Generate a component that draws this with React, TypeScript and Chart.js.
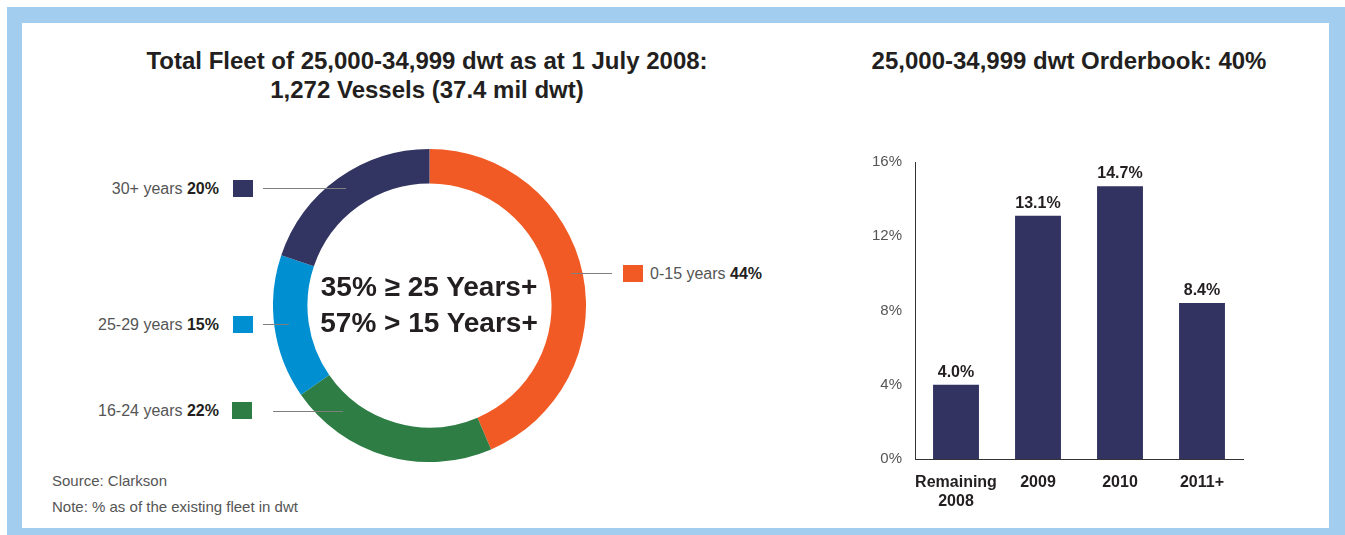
import React, { useEffect, useRef } from "react";
import { Chart, registerables } from "chart.js";

Chart.register(...registerables);

const donutLabels = ["0-15 years", "16-24 years", "25-29 years", "30+ years"];
const donutValues = [44, 22, 15, 20];
const donutColors = ["#F15A24", "#2D7D45", "#0090D1", "#323461"];

const barCategories = [["Remaining", "2008"], "2009", "2010", "2011+"];
const barValues = [4.0, 13.1, 14.7, 8.4];
const yTickValues = [0, 4, 8, 12, 16];

const FONT = "'Liberation Sans', Arial, Helvetica, sans-serif";
const TEXT_DARK = "#231F20";
const TEXT_GRAY = "#555555";

const barValueLabels = {
  id: "barValueLabels",
  afterDatasetsDraw(chart: any) {
    const ctx = chart.ctx;
    const meta = chart.getDatasetMeta(0);
    ctx.save();
    ctx.font = `bold 16px ${FONT}`;
    ctx.fillStyle = TEXT_DARK;
    ctx.textAlign = "center";
    ctx.textBaseline = "alphabetic";
    meta.data.forEach((bar: any, i: number) => {
      const v = chart.data.datasets[0].data[i] as number;
      ctx.fillText(v.toFixed(1) + "%", bar.x, bar.y - 8);
    });
    ctx.restore();
  },
};

function Donut() {
  const ref = useRef<HTMLCanvasElement>(null);
  useEffect(() => {
    if (!ref.current) return;
    const chart = new Chart(ref.current, {
      type: "doughnut",
      data: {
        labels: donutLabels,
        datasets: [
          {
            data: donutValues,
            backgroundColor: donutColors,
            borderWidth: 0,
          },
        ],
      },
      options: {
        animation: false,
        responsive: false,
        maintainAspectRatio: false,
        cutout: "78%",
        rotation: 0,
        layout: { padding: 0 },
        plugins: {
          legend: { display: false },
          tooltip: { enabled: false },
          title: { display: false },
        },
      },
    });
    return () => chart.destroy();
  }, []);
  return (
    <canvas
      ref={ref}
      width={313}
      height={313}
      style={{ position: "absolute", left: 273, top: 149, width: 313, height: 313 }}
    />
  );
}

function Bars() {
  const ref = useRef<HTMLCanvasElement>(null);
  useEffect(() => {
    if (!ref.current) return;
    const chart = new Chart(ref.current, {
      type: "bar",
      data: {
        labels: barCategories as any,
        datasets: [
          {
            data: barValues,
            backgroundColor: "#323361",
            borderWidth: 0,
            barPercentage: 0.56,
            categoryPercentage: 1,
          },
        ],
      },
      options: {
        animation: false,
        responsive: false,
        maintainAspectRatio: false,
        layout: { padding: { top: 19, right: 17, left: 0, bottom: 0 } },
        plugins: {
          legend: { display: false },
          tooltip: { enabled: false },
        },
        scales: {
          x: {
            grid: { display: false, drawTicks: false },
            border: { display: true, color: "#333333", width: 1 },
            ticks: {
              color: TEXT_DARK,
              font: { family: FONT, size: 16, weight: "bold", lineHeight: 1.2 },
              padding: 14,
              maxRotation: 0,
              autoSkip: false,
            },
            afterFit(scale: any) {
              scale.height = 61;
            },
          },
          y: {
            min: 0,
            max: 16,
            afterBuildTicks(scale: any) {
              scale.ticks = yTickValues.map((v) => ({ value: v }));
            },
            grid: { display: false, drawTicks: false },
            border: { display: true, color: "#333333", width: 1 },
            ticks: {
              color: TEXT_GRAY,
              font: { family: FONT, size: 15 },
              padding: 13,
              callback: (v: any) => v + "%",
            },
            afterFit(scale: any) {
              scale.width = 75;
            },
          },
        },
      },
      plugins: [barValueLabels],
    });
    return () => chart.destroy();
  }, []);
  return (
    <canvas
      ref={ref}
      width={420}
      height={380}
      style={{ position: "absolute", left: 840, top: 140, width: 420, height: 380 }}
    />
  );
}

function LegendItem(props: {
  idx: number;
  side: "left" | "right";
  textEdge: number;
  cy: number;
  sqLeft: number;
  lineFrom: number;
  lineTo: number;
  lineY: number;
}) {
  const { idx, side, textEdge, cy, sqLeft, lineFrom, lineTo, lineY } = props;
  const text = (
    <span>
      {donutLabels[idx]} <b style={{ color: TEXT_DARK }}>{donutValues[idx]}%</b>
    </span>
  );
  return (
    <>
      <div
        style={{
          position: "absolute",
          top: cy - 10,
          height: 20,
          lineHeight: "20px",
          fontSize: 16,
          color: TEXT_GRAY,
          whiteSpace: "nowrap",
          ...(side === "left"
            ? { right: 1345 - textEdge, textAlign: "right" as const }
            : { left: textEdge }),
        }}
      >
        {text}
      </div>
      <div
        style={{
          position: "absolute",
          left: sqLeft,
          top: cy - 9,
          width: 20,
          height: 17,
          background: donutColors[idx],
        }}
      />
      <div
        style={{
          position: "absolute",
          left: lineFrom,
          top: lineY,
          width: lineTo - lineFrom,
          height: 1.3,
          background: "#7f7f7f",
          zIndex: 2,
        }}
      />
    </>
  );
}

export default function App() {
  return (
    <div
      style={{
        position: "absolute",
        left: 0,
        top: 0,
        width: 1345,
        height: 535,
        background: "#ffffff",
        fontFamily: FONT,
        overflow: "hidden",
      }}
    >
      <div
        style={{
          position: "absolute",
          left: 7,
          top: 7,
          width: 1338,
          height: 528,
          background: "#A3CDEE",
        }}
      />
      <div
        style={{
          position: "absolute",
          left: 22,
          top: 23,
          width: 1307,
          height: 505,
          background: "#ffffff",
        }}
      />

      <div
        style={{
          position: "absolute",
          left: 77,
          width: 700,
          top: 46,
          textAlign: "center",
          fontWeight: "bold",
          fontSize: 24,
          lineHeight: "29px",
          color: TEXT_DARK,
        }}
      >
        Total Fleet of 25,000-34,999 dwt as at 1 July 2008:
        <br />
        1,272 Vessels (37.4 mil dwt)
      </div>

      <div
        style={{
          position: "absolute",
          left: 819,
          width: 500,
          top: 46,
          textAlign: "center",
          fontWeight: "bold",
          fontSize: 24,
          lineHeight: "29px",
          color: TEXT_DARK,
        }}
      >
        25,000-34,999 dwt Orderbook: 40%
      </div>

      <Donut />

      <div
        style={{
          position: "absolute",
          left: 279,
          width: 300,
          top: 269,
          textAlign: "center",
          fontWeight: "bold",
          fontSize: 28,
          lineHeight: "36px",
          color: TEXT_DARK,
          zIndex: 3,
        }}
      >
        35% ≥ 25 Years+
        <br />
        57% &gt; 15 Years+
      </div>

      <LegendItem idx={3} side="left" textEdge={219} cy={189} sqLeft={233} lineFrom={263} lineTo={346} lineY={188} />
      <LegendItem idx={2} side="left" textEdge={219} cy={325} sqLeft={233} lineFrom={263} lineTo={289} lineY={324} />
      <LegendItem idx={1} side="left" textEdge={219} cy={411} sqLeft={232} lineFrom={273} lineTo={343} lineY={411} />
      <LegendItem idx={0} side="right" textEdge={650} cy={274} sqLeft={623} lineFrom={571} lineTo={612} lineY={273} />

      <div
        style={{
          position: "absolute",
          left: 52,
          top: 468,
          fontSize: 15,
          lineHeight: "26px",
          color: TEXT_GRAY,
        }}
      >
        Source: Clarkson
        <br />
        Note: % as of the existing fleet in dwt
      </div>

      <Bars />
    </div>
  );
}
